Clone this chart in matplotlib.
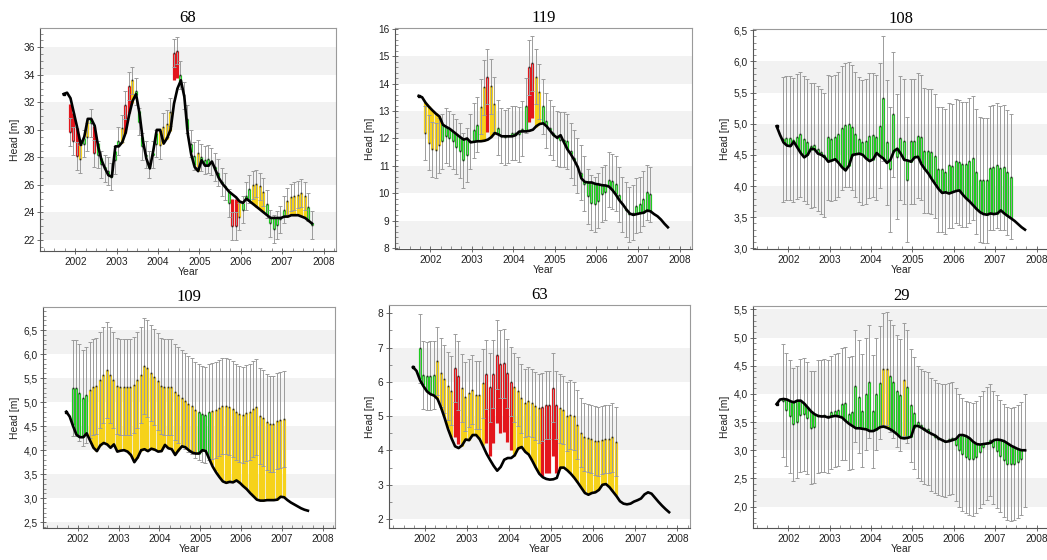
import numpy as np
import matplotlib
matplotlib.use("Agg")
import matplotlib.pyplot as plt
from matplotlib.ticker import MultipleLocator, FuncFormatter

# ---------------- data ----------------
line_start = 2001.72     # first simulated value (decimal year), monthly steps
obs_start = 2001.875     # first observation (decimal year), monthly steps
years = [2002, 2003, 2004, 2005, 2006, 2007, 2008]

line_68 = [32.6, 32.7, 32.3, 31.2, 30.1, 28.9, 29.5, 30.8, 30.8, 30.3,
           28.8, 27.8, 27.2, 26.7, 26.6, 28.8, 28.8, 29.1, 29.8, 31.1,
           32.1, 32.6, 31.2, 29.2, 27.9, 27.2, 28.5, 30.0, 30.0, 29.0,
           29.4, 30.0, 31.9, 33.0, 33.6, 32.4, 29.7, 28.2, 27.3, 27.0,
           27.8, 27.4, 27.4, 27.7, 27.1, 26.5, 26.1, 25.8, 25.5, 25.3,
           25.1, 24.8, 24.7, 25.0, 24.8, 24.6, 24.4, 24.2, 24.0, 23.8,
           23.6, 23.6, 23.6, 23.6, 23.7, 23.7, 23.8, 23.8, 23.8, 23.7,
           23.6, 23.4, 23.2]
obs_68 = [29.85, 29.2, 28.1, 27.9, 29.0, 29.5, 30.5, 28.3, 28.2, 27.5,
          27.2, 27.0, 26.6, 27.8, 29.2, 30.1, 31.8, 33.2, 33.6, 32.8,
          30.6, 28.8, 28.2, 27.5, 28.2, 29.0, 28.9, 30.2, 30.45, 31.3,
          35.6, 35.75, 34.0, 32.5, 30.8, 29.0, 28.1, 28.3, 28.0, 27.8,
          27.9, 27.7, 27.3, 26.9, 26.2, 25.9, 24.7, 23.0, 23.0, 23.7,
          24.2, 25.2, 25.7, 26.0, 26.1, 25.9, 25.5, 24.6, 23.2, 22.8,
          23.1, 23.5, 24.2, 24.8, 25.1, 25.2, 25.3, 25.4, 25.2, 24.4,
          23.1]
col_68 = "RRRYGYGRGG" "GGGGGYRRYG" "GGGGGGYYYY" "RRGGGGGYGG" "GGGGGGGRRY" "GGGYYYYGGG" "GGGYYYYYYG" "G"

line_119 = [13.55, 13.5, 13.3, 13.15, 13.02, 12.9, 12.8, 12.5, 12.42, 12.35,
            12.25, 12.15, 12.05, 11.96, 12.0, 11.86, 11.88, 11.9, 11.9, 11.92,
            11.96, 12.05, 12.2, 12.15, 12.08, 12.08, 12.08, 12.08, 12.12, 12.25,
            12.26, 12.26, 12.28, 12.32, 12.45, 12.53, 12.55, 12.44, 12.28, 12.12,
            12.03, 12.12, 11.85, 11.6, 11.42, 11.2, 10.95, 10.55, 10.42, 10.4,
            10.4, 10.35, 10.33, 10.3, 10.29, 10.25, 10.12, 9.95, 9.75, 9.6,
            9.42, 9.27, 9.22, 9.25, 9.28, 9.3, 9.38, 9.35, 9.25, 9.17,
            9.05, 8.9, 8.77]
obs_119 = [12.2, 11.85, 11.6, 11.57, 11.75, 11.9, 12.1, 12.0, 11.9, 11.7,
           11.55, 11.2, 11.4, 11.9, 12.3, 12.5, 13.15, 13.86, 14.25, 13.9,
           13.25, 12.4, 12.1, 12.05, 12.1, 12.2, 12.2, 12.15, 12.35, 13.2,
           14.6, 14.73, 14.25, 13.7, 13.17, 12.65, 12.4, 12.2, 12.0, 11.95,
           11.95, 11.9, 11.55, 11.3, 11.0, 10.75, 10.35, 9.9, 9.67, 9.6,
           9.73, 9.97, 10.05, 10.5, 10.45, 10.35, 9.95, 9.6, 9.4, 9.25,
           9.3, 9.55, 9.6, 9.8, 10.05, 9.97]
col_119 = "YYYYY" + "G" * 11 + "YYRYY" + "G" * 9 + "RRYY" + "G" * 32

line_108 = [4.96, 4.82, 4.7, 4.65, 4.64, 4.71, 4.62, 4.53, 4.46, 4.5,
            4.6, 4.59, 4.52, 4.5, 4.46, 4.39, 4.41, 4.43, 4.37, 4.3,
            4.25, 4.33, 4.5, 4.51, 4.52, 4.5, 4.44, 4.4, 4.43, 4.53,
            4.48, 4.44, 4.37, 4.42, 4.56, 4.6, 4.52, 4.42, 4.41, 4.39,
            4.46, 4.47, 4.35, 4.27, 4.2, 4.11, 4.03, 3.95, 3.89, 3.9,
            3.88, 3.9, 3.92, 3.93, 3.86, 3.8, 3.75, 3.69, 3.63, 3.58,
            3.55, 3.54, 3.56, 3.55, 3.56, 3.61, 3.56, 3.52, 3.48, 3.44,
            3.39, 3.34, 3.3]
obs_108 = [4.75, 4.77, 4.77, 4.74, 4.79, 4.83, 4.76, 4.71, 4.65, 4.66,
           4.6, 4.55, 4.5, 4.78, 4.76, 4.78, 4.83, 4.93, 4.98, 4.99,
           4.94, 4.83, 4.75, 4.7, 4.72, 4.81, 4.82, 4.78, 4.97, 5.41,
           4.7, 4.27, 5.15, 4.47, 4.77, 4.72, 4.1, 4.72, 4.72, 4.81,
           4.78, 4.57, 4.56, 4.55, 4.48, 4.27, 4.27, 4.23, 4.33, 4.32,
           4.4, 4.38, 4.35, 4.35, 4.41, 4.45, 4.23, 4.1, 4.09, 4.09,
           4.29, 4.3, 4.33, 4.29, 4.3, 4.22, 4.15]
col_108 = "G" * 67

line_109 = [4.8, 4.7, 4.5, 4.32, 4.27, 4.27, 4.35, 4.2, 4.05, 3.98,
            4.1, 4.15, 4.12, 4.05, 4.12, 3.97, 3.99, 4.0, 3.97, 3.9,
            3.75, 3.85, 4.0, 4.02, 3.98, 4.03, 4.01, 3.97, 3.98, 4.11,
            4.04, 4.02, 3.9, 4.0, 4.08, 4.06, 4.0, 3.95, 3.93, 3.93,
            4.0, 3.98, 3.82, 3.66, 3.54, 3.44, 3.35, 3.32, 3.34, 3.33,
            3.37, 3.32, 3.25, 3.19, 3.11, 3.04, 2.97, 2.95, 2.95, 2.96,
            2.96, 2.96, 2.97, 3.03, 3.02, 2.96, 2.91, 2.87, 2.83, 2.79,
            2.76, 2.74]
obs_109 = [5.29, 5.29, 5.2, 5.08, 5.15, 5.25, 5.31, 5.34, 5.46, 5.57,
           5.66, 5.57, 5.46, 5.34, 5.31, 5.31, 5.31, 5.31, 5.36, 5.46,
           5.57, 5.75, 5.7, 5.6, 5.52, 5.43, 5.34, 5.32, 5.32, 5.31,
           5.22, 5.15, 5.08, 5.03, 4.96, 4.91, 4.84, 4.8, 4.75, 4.74,
           4.8, 4.82, 4.84, 4.87, 4.91, 4.91, 4.89, 4.85, 4.8, 4.76,
           4.74, 4.78, 4.8, 4.85, 4.89, 4.71, 4.67, 4.58, 4.55, 4.55,
           4.6, 4.63, 4.65]
col_109 = "G" * 5 + "Y" * 32 + "G" * 4 + "Y" * 22

line_63 = [6.43, 6.32, 6.05, 5.87, 5.72, 5.64, 5.6, 5.5, 5.25, 4.95,
           4.62, 4.35, 4.12, 4.07, 4.15, 4.32, 4.3, 4.45, 4.45, 4.33,
           4.12, 3.9, 3.72, 3.55, 3.41, 3.52, 3.73, 3.78, 3.78, 3.86,
           4.06, 4.1, 3.96, 3.88, 3.7, 3.5, 3.32, 3.22, 3.17, 3.15,
           3.16, 3.2, 3.5, 3.5, 3.42, 3.32, 3.2, 3.06, 2.91, 2.76,
           2.71, 2.76, 2.78, 2.85, 3.0, 3.02, 2.93, 2.8, 2.67, 2.52,
           2.45, 2.43, 2.45, 2.51, 2.55, 2.6, 2.72, 2.78, 2.74, 2.62,
           2.5, 2.39, 2.29, 2.2]
obs_63 = [6.98, 6.2, 6.17, 6.18, 6.2, 6.61, 6.27, 6.08, 5.88, 5.74,
          6.4, 6.18, 5.82, 5.57, 5.67, 5.77, 5.62, 5.62, 5.96, 6.22,
          5.84, 6.23, 6.79, 6.52, 6.54, 6.25, 6.01, 5.84, 5.72, 5.52,
          5.38, 5.43, 5.38, 5.3, 5.23, 5.27, 5.33, 5.33, 5.83, 5.33,
          5.23, 5.18, 4.99, 5.04, 5.01, 4.75, 4.52, 4.39, 4.36, 4.33,
          4.29, 4.27, 4.31, 4.33, 4.33, 4.38, 4.26]
col_63 = "G" * 5 + "Y" * 5 + "RR" + "Y" * 7 + "R" * 8 + "Y" * 8 + "R" * 5 + "Y" * 17

line_29 = [3.82, 3.9, 3.91, 3.9, 3.87, 3.85, 3.88, 3.88, 3.83, 3.76,
           3.69, 3.64, 3.61, 3.6, 3.6, 3.58, 3.6, 3.61, 3.6, 3.58,
           3.52, 3.47, 3.43, 3.39, 3.39, 3.38, 3.37, 3.34, 3.34, 3.37,
           3.41, 3.42, 3.4, 3.37, 3.33, 3.28, 3.22, 3.21, 3.22, 3.24,
           3.43, 3.43, 3.4, 3.36, 3.32, 3.29, 3.26, 3.21, 3.18, 3.15,
           3.16, 3.18, 3.2, 3.27, 3.27, 3.25, 3.21, 3.15, 3.11, 3.1,
           3.11, 3.12, 3.13, 3.18, 3.19, 3.18, 3.16, 3.12, 3.08, 3.05,
           3.02, 3.0, 3.0]
obs_29 = [3.88, 3.72, 3.6, 3.46, 3.5, 3.62, 3.64, 3.57, 3.4, 3.41,
          3.6, 3.61, 3.62, 3.6, 3.67, 3.7, 3.72, 3.82, 3.83, 3.65,
          3.67, 4.14, 3.95, 3.7, 4.0, 4.22, 3.69, 4.0, 4.2, 4.44,
          4.45, 4.32, 4.22, 4.05, 3.98, 4.25, 4.13, 3.8, 3.66, 3.5,
          3.45, 3.4, 3.38, 3.28, 3.24, 3.2, 3.18, 3.17, 3.2, 3.22,
          3.1, 3.0, 2.93, 2.88, 2.85, 2.84, 2.88, 2.97, 3.05, 3.12,
          3.18, 3.05, 2.98, 2.9, 2.82, 2.76, 2.75, 2.76, 2.8, 2.85,
          3.0]
col_29 = "G" * 29 + "YY" + "GGGG" + "Y" + "G" * 35

obs_error = 1.0       # half-length of grey error bars [m]
max_bar = 2.0         # colored residual bars are capped at this length [m]

# shaded horizontal bands (lower, upper) per panel
bands_68 = [(22, 24), (26, 28), (30, 32), (34, 36)]
bands_119 = [(8, 9), (10, 11), (12, 13), (14, 15)]
bands_108 = [(3.5, 4.0), (4.5, 5.0), (5.5, 6.0)]
bands_109 = [(2.0, 2.5), (3.0, 3.5), (4.0, 4.5), (5.0, 5.5), (6.0, 6.5)]
bands_63 = [(2, 3), (4, 5), (6, 7)]
bands_29 = [(2.0, 2.5), (3.0, 3.5), (4.0, 4.5), (5.0, 5.5)]

# ---------------- styling / layout ----------------
W, H = 1047, 560
COLORS = {"G": "#1fcc1f", "Y": "#f6d21a", "R": "#e3161c"}
BAND = "#f2f2f2"

def px_rect(x0, y0, x1, y1):
    return [x0 / W, 1 - y1 / H, (x1 - x0) / W, (y1 - y0) / H]

panels = [
    ("68", line_68, obs_68, col_68, (21.2, 37.4), 2, 0.5, 0, bands_68, px_rect(40, 28, 336, 251)),
    ("119", line_119, obs_119, col_119, (7.98, 16.02), 1, 0.2, 0, bands_119, px_rect(395, 28, 692, 249)),
    ("108", line_108, obs_108, col_108, (2.99, 6.52), 0.5, 0.1, 1, bands_108, px_rect(753, 29, 1049, 249)),
    ("109", line_109, obs_109, col_109, (2.38, 6.98), 0.5, 0.1, 1, bands_109, px_rect(43, 307, 335, 528)),
    ("63", line_63, obs_63, col_63, (1.74, 8.24), 1, 0.5, 0, bands_63, px_rect(389, 305, 690, 528)),
    ("29", line_29, obs_29, col_29, (1.62, 5.56), 0.5, 0.1, 1, bands_29, px_rect(753, 306, 1049, 528)),
]

plt.rcParams['font.family'] = ['Liberation Sans', 'DejaVu Sans']
fig = plt.figure(figsize=(W / 100, H / 100), dpi=100)

for title, line, obs, cols, ylim, major, minor, dec, bands, rect in panels:
    ax = fig.add_axes(rect)
    line = np.asarray(line, float)
    obs = np.asarray(obs, float)
    t_line = line_start + np.arange(len(line)) / 12.0
    t_obs = obs_start + np.arange(len(obs)) / 12.0
    sim = np.interp(t_obs, t_line, line)
    res = sim - obs
    end = obs + np.sign(res) * np.minimum(np.abs(res), max_bar)

    for lo, hi in bands:
        ax.axhspan(lo, hi, color=BAND, lw=0, zorder=0)

    cols = np.array(list(cols))
    for c, colr in COLORS.items():
        m = cols == c
        if m.any():
            ax.vlines(t_obs[m], obs[m], end[m], colors=colr, lw=2.3, zorder=2)

    ax.errorbar(t_obs, obs, yerr=obs_error, fmt='none', ecolor='#9c9c9c',
                elinewidth=0.7, capsize=1.2, capthick=0.7, zorder=3)
    ax.plot(t_obs, obs, 's', ms=1.2, color='#2a2a2a', zorder=4, mew=0)
    ax.plot(t_line, line, '-', color='black', lw=1.9, zorder=5,
            solid_joinstyle='round')
    ax.plot(t_line[:1], line[:1], 's', ms=1.6, color='black', zorder=5)

    ax.set_xlim(2001.15, 2008.3)
    ax.set_ylim(*ylim)
    ax.set_xticks(years)
    ax.xaxis.set_minor_locator(MultipleLocator(0.25))
    ax.yaxis.set_major_locator(MultipleLocator(major))
    ax.yaxis.set_minor_locator(MultipleLocator(minor))
    if dec:
        ax.yaxis.set_major_formatter(FuncFormatter(lambda v, p: f"{v:.1f}".replace('.', ',')))
    else:
        ax.yaxis.set_major_formatter(FuncFormatter(lambda v, p: f"{v:.0f}"))
    ax.tick_params(which='major', direction='inout', length=4, width=0.6,
                   color='#555555', labelsize=7.3, labelcolor='#222222', pad=2)
    ax.tick_params(which='minor', direction='in', length=2.5, width=0.5,
                   color='#666666')
    for s in ax.spines.values():
        s.set_color('#9a9a9a')
        s.set_linewidth(0.8)
    ax.spines['left'].set_color('#555555')
    ax.spines['bottom'].set_color('#555555')
    ax.set_xlabel('Year', fontsize=7.5, labelpad=0.5, color='#222222')
    ax.set_ylabel('Head [m]', fontsize=7.5, labelpad=2, color='#222222')
    ax.set_title(title, fontsize=12, family=['Liberation Serif', 'DejaVu Serif'], pad=4)

fig.savefig('out.png', dpi=100)
